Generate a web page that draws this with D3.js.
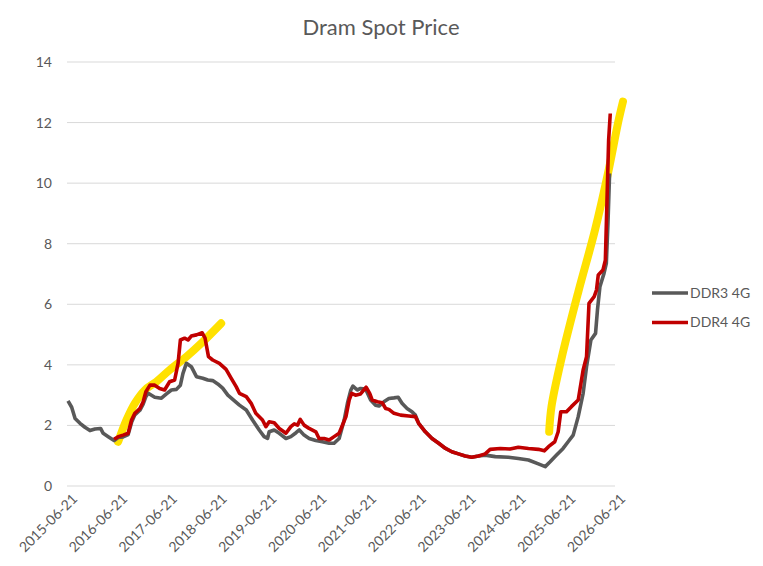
<!DOCTYPE html>
<html>
<head>
<meta charset="utf-8">
<script src="https://cdn.jsdelivr.net/npm/d3@7"></script>
<style>
  body { margin: 0; background: #fff; }
  text { font-family: Lato, 'Open Sans', sans-serif; fill: #595959; }
</style>
</head>
<body>
<div id="chart"></div>
<script>
// readings
const ddr3Dates = ['2015-06-21', '2015-07-18', '2015-08-12', '2015-09-17', '2015-10-23', '2015-11-29', '2016-01-05', '2016-02-15', '2016-03-05', '2016-04-11', '2016-05-24', '2016-06-23', '2016-07-29', '2016-09-04', '2016-09-29', '2016-10-23', '2016-11-29', '2016-12-23', '2017-01-12', '2017-01-29', '2017-03-18', '2017-05-06', '2017-06-12', '2017-07-18', '2017-08-24', '2017-09-22', '2017-10-11', '2017-11-05', '2017-12-11', '2018-01-18', '2018-03-05', '2018-04-11', '2018-05-17', '2018-06-23', '2018-07-29', '2018-09-05', '2018-10-11', '2018-11-29', '2019-01-18', '2019-03-05', '2019-04-23', '2019-05-29', '2019-06-23', '2019-07-05', '2019-08-11', '2019-09-17', '2019-11-05', '2019-12-11', '2020-01-18', '2020-02-11', '2020-03-17', '2020-04-23', '2020-06-11', '2020-07-29', '2020-09-17', '2020-10-23', '2020-11-29', '2021-01-05', '2021-01-29', '2021-02-23', '2021-03-10', '2021-04-11', '2021-05-05', '2021-06-11', '2021-07-18', '2021-08-23', '2021-09-17', '2021-10-23', '2021-11-29', '2022-01-05', '2022-02-05', '2022-03-05', '2022-04-11', '2022-05-17', '2022-06-11', '2022-07-05', '2022-08-23', '2022-10-11', '2022-11-29', '2023-01-18', '2023-03-05', '2023-04-23', '2023-06-11', '2023-07-29', '2023-09-17', '2023-11-05', '2024-01-18', '2024-04-23', '2024-07-05', '2024-09-17', '2024-11-29', '2025-01-18', '2025-02-23', '2025-04-11', '2025-05-29', '2025-07-05', '2025-08-11', '2025-09-17', '2025-10-23', '2025-11-17', '2025-12-19', '2026-01-22', '2026-02-05', '2026-02-23', '2026-03-25', '2026-04-11', '2026-04-23', '2026-05-05']
const ddr3Values = [2.81, 2.6, 2.23, 2.07, 1.94, 1.83, 1.88, 1.9, 1.74, 1.63, 1.5, 1.6, 1.62, 1.7, 2.1, 2.35, 2.5, 2.7, 2.95, 3.06, 2.93, 2.9, 3.04, 3.17, 3.19, 3.33, 3.72, 4.05, 3.94, 3.61, 3.56, 3.5, 3.48, 3.37, 3.23, 3.0, 2.86, 2.67, 2.51, 2.18, 1.85, 1.63, 1.57, 1.79, 1.85, 1.74, 1.57, 1.63, 1.76, 1.85, 1.68, 1.57, 1.5, 1.46, 1.41, 1.41, 1.57, 2.18, 2.73, 3.17, 3.3, 3.17, 3.22, 3.2, 2.84, 2.67, 2.64, 2.78, 2.89, 2.91, 2.93, 2.73, 2.56, 2.45, 2.34, 2.07, 1.79, 1.57, 1.41, 1.24, 1.13, 1.06, 0.99, 0.95, 0.99, 1.02, 0.97, 0.95, 0.91, 0.86, 0.73, 0.64, 0.8, 1.02, 1.24, 1.46, 1.68, 2.29, 3.06, 3.94, 4.82, 5.04, 5.81, 6.58, 7.02, 7.35, 8.67, 10.32]

const ddr4Dates = ['2016-05-24', '2016-06-23', '2016-07-29', '2016-09-04', '2016-09-29', '2016-10-23', '2016-11-29', '2016-12-23', '2017-01-12', '2017-02-11', '2017-03-18', '2017-04-23', '2017-05-29', '2017-07-05', '2017-08-11', '2017-09-05', '2017-09-22', '2017-10-23', '2017-11-17', '2017-12-11', '2018-01-18', '2018-03-01', '2018-03-22', '2018-04-16', '2018-05-17', '2018-07-05', '2018-08-23', '2018-09-29', '2018-11-05', '2018-11-29', '2019-01-18', '2019-02-23', '2019-03-29', '2019-05-17', '2019-06-11', '2019-07-05', '2019-08-11', '2019-09-17', '2019-11-05', '2019-12-11', '2020-01-05', '2020-01-29', '2020-02-18', '2020-03-17', '2020-04-23', '2020-06-11', '2020-07-05', '2020-08-11', '2020-09-17', '2020-10-23', '2020-11-29', '2021-01-18', '2021-02-11', '2021-03-01', '2021-03-29', '2021-05-05', '2021-06-15', '2021-07-11', '2021-07-29', '2021-09-05', '2021-10-11', '2021-11-05', '2021-11-29', '2022-01-05', '2022-02-23', '2022-04-23', '2022-06-11', '2022-07-05', '2022-08-23', '2022-10-11', '2022-11-29', '2023-01-18', '2023-03-05', '2023-04-23', '2023-06-11', '2023-07-29', '2023-09-17', '2023-11-05', '2023-12-11', '2024-02-23', '2024-05-05', '2024-07-05', '2024-09-17', '2024-11-29', '2025-01-12', '2025-02-11', '2025-03-29', '2025-04-23', '2025-05-12', '2025-06-23', '2025-07-29', '2025-09-17', '2025-09-29', '2025-10-23', '2025-11-17', '2025-12-05', '2026-01-12', '2026-01-29', '2026-02-11', '2026-03-17', '2026-04-04', '2026-04-18', '2026-04-28', '2026-05-10']
const ddr4Values = [1.54, 1.63, 1.68, 1.74, 2.18, 2.4, 2.56, 2.78, 3.11, 3.33, 3.33, 3.22, 3.17, 3.44, 3.5, 4.05, 4.82, 4.88, 4.82, 4.95, 4.99, 5.06, 4.88, 4.27, 4.16, 4.05, 3.85, 3.56, 3.28, 3.06, 2.95, 2.73, 2.4, 2.18, 1.96, 2.12, 2.09, 1.9, 1.74, 1.96, 2.05, 2.01, 2.2, 2.01, 1.9, 1.79, 1.57, 1.57, 1.52, 1.63, 1.74, 2.29, 2.84, 3.06, 3.0, 3.04, 3.26, 3.06, 2.84, 2.78, 2.75, 2.56, 2.53, 2.4, 2.34, 2.31, 2.29, 2.07, 1.79, 1.57, 1.41, 1.24, 1.13, 1.06, 0.99, 0.95, 0.99, 1.06, 1.21, 1.24, 1.22, 1.28, 1.24, 1.21, 1.16, 1.3, 1.46, 1.79, 2.45, 2.45, 2.62, 2.84, 3.17, 3.83, 4.27, 6.03, 6.25, 6.47, 6.97, 7.13, 7.46, 9.77, 11.42, 12.3]

// the two yellow highlighter strokes drawn on the chart
const markOneDates = ['2016-06-23', '2016-08-23', '2016-10-23', '2017-01-05', '2017-03-29', '2017-07-05', '2017-11-05', '2018-03-05', '2018-07-18']
const markOneValues = [1.46, 2.18, 2.73, 3.17, 3.44, 3.83, 4.27, 4.76, 5.37]
const markTwoDates = ['2025-02-16', '2025-03-05', '2025-05-17', '2025-09-17', '2026-01-18', '2026-04-23', '2026-07-05', '2026-08-11']
const markTwoValues = [1.79, 2.62, 4.2, 6.4, 8.45, 10.32, 11.97, 12.69]

const xTickLabels = ['2015-06-21', '2016-06-21', '2017-06-21', '2018-06-21', '2019-06-21', '2020-06-21', '2021-06-21', '2022-06-21', '2023-06-21', '2024-06-21', '2025-06-21', '2026-06-21']
const yTicks = [0, 2, 4, 6, 8, 10, 12, 14]
const seriesNames = ['DDR3 4G', 'DDR4 4G']
const seriesColors = ['#595959', '#c00000']

const parse = d3.timeParse('%Y-%m-%d')
const zip = (dates, values) => dates.map((d, i) => ({ date: parse(d), value: values[i] }))

const width = 763
const height = 566
const margin = { top: 62, right: 147, bottom: 80, left: 68 }

const svg = d3.select('#chart')
    .append('svg')
    .attr('width', width)
    .attr('height', height)

const xScale = d3.scaleTime()
    .domain([parse(xTickLabels[0]), parse(xTickLabels[xTickLabels.length - 1])])
    .range([margin.left, width - margin.right])

const yScale = d3.scaleLinear()
    .domain([0, 14])
    .range([height - margin.bottom, margin.top])

// horizontal gridlines
svg.append('g')
    .selectAll('line')
    .data(yTicks)
    .enter()
    .append('line')
        .attr('x1', margin.left - 1)
        .attr('x2', width - margin.right - 1)
        .attr('y1', d => yScale(d))
        .attr('y2', d => yScale(d))
        .attr('stroke', '#d9d9d9')
        .attr('stroke-width', 1)

// y axis labels only, no line
const yAxis = svg.append('g')
    .attr('transform', `translate(${margin.left - 10}, 0)`)
    .call(d3.axisLeft(yScale).tickValues(yTicks).tickSize(0).tickPadding(6))
yAxis.select('.domain').remove()
yAxis.selectAll('text')
    .attr('font-size', '14px')
    .attr('font-family', 'Lato')
    .attr('fill', '#595959')

// x axis with rotated date labels
const xAxis = svg.append('g')
    .attr('transform', `translate(0, ${height - margin.bottom})`)
    .call(d3.axisBottom(xScale)
        .tickValues(xTickLabels.map(parse))
        .tickFormat(d3.timeFormat('%Y-%m-%d'))
        .tickSize(0)
        .tickPadding(6))
xAxis.select('.domain').remove()
xAxis.selectAll('text')
    .attr('font-size', '14px')
    .attr('font-family', 'Lato')
    .attr('fill', '#595959')
    .attr('text-anchor', 'end')
    .attr('dy', '0.35em')
    .attr('transform', 'translate(2, 6) rotate(-45)')

// highlighter strokes go under the price lines
const markLine = d3.line()
    .x(d => xScale(d.date))
    .y(d => yScale(d.value))
    .curve(d3.curveCatmullRom)

const marks = [zip(markOneDates, markOneValues), zip(markTwoDates, markTwoValues)]
marks.forEach(m => {
    svg.append('path')
        .datum(m)
        .attr('fill', 'none')
        .attr('stroke', '#ffe100')
        .attr('stroke-width', 8)
        .attr('stroke-linecap', 'round')
        .attr('d', markLine)
})

const line = d3.line()
    .x(d => xScale(d.date))
    .y(d => yScale(d.value))

const series = [zip(ddr3Dates, ddr3Values), zip(ddr4Dates, ddr4Values)]

series.forEach((s, i) => {
    svg.append('path')
        .datum(s)
        .attr('fill', 'none')
        .attr('stroke', seriesColors[i])
        .attr('stroke-width', 3.6)
        .attr('stroke-linejoin', 'round')
        .attr('d', line)
})

// title
svg.append('text')
    .attr('x', 381)
    .attr('y', 35)
    .attr('text-anchor', 'middle')
    .attr('font-size', '22px')
    .text('Dram Spot Price')

// legend
const legend = svg.append('g')
    .selectAll('g')
    .data(seriesNames)
    .enter()
    .append('g')
    .attr('transform', (d, i) => `translate(652, ${293 + i * 29.5})`)

legend.append('line')
    .attr('x1', 0)
    .attr('x2', 36)
    .attr('stroke', (d, i) => seriesColors[i])
    .attr('stroke-width', 3.6)

legend.append('text')
    .attr('x', 38)
    .attr('dy', '0.35em')
    .attr('font-size', '14px')
    .text(d => d)
</script>
</body>
</html>
